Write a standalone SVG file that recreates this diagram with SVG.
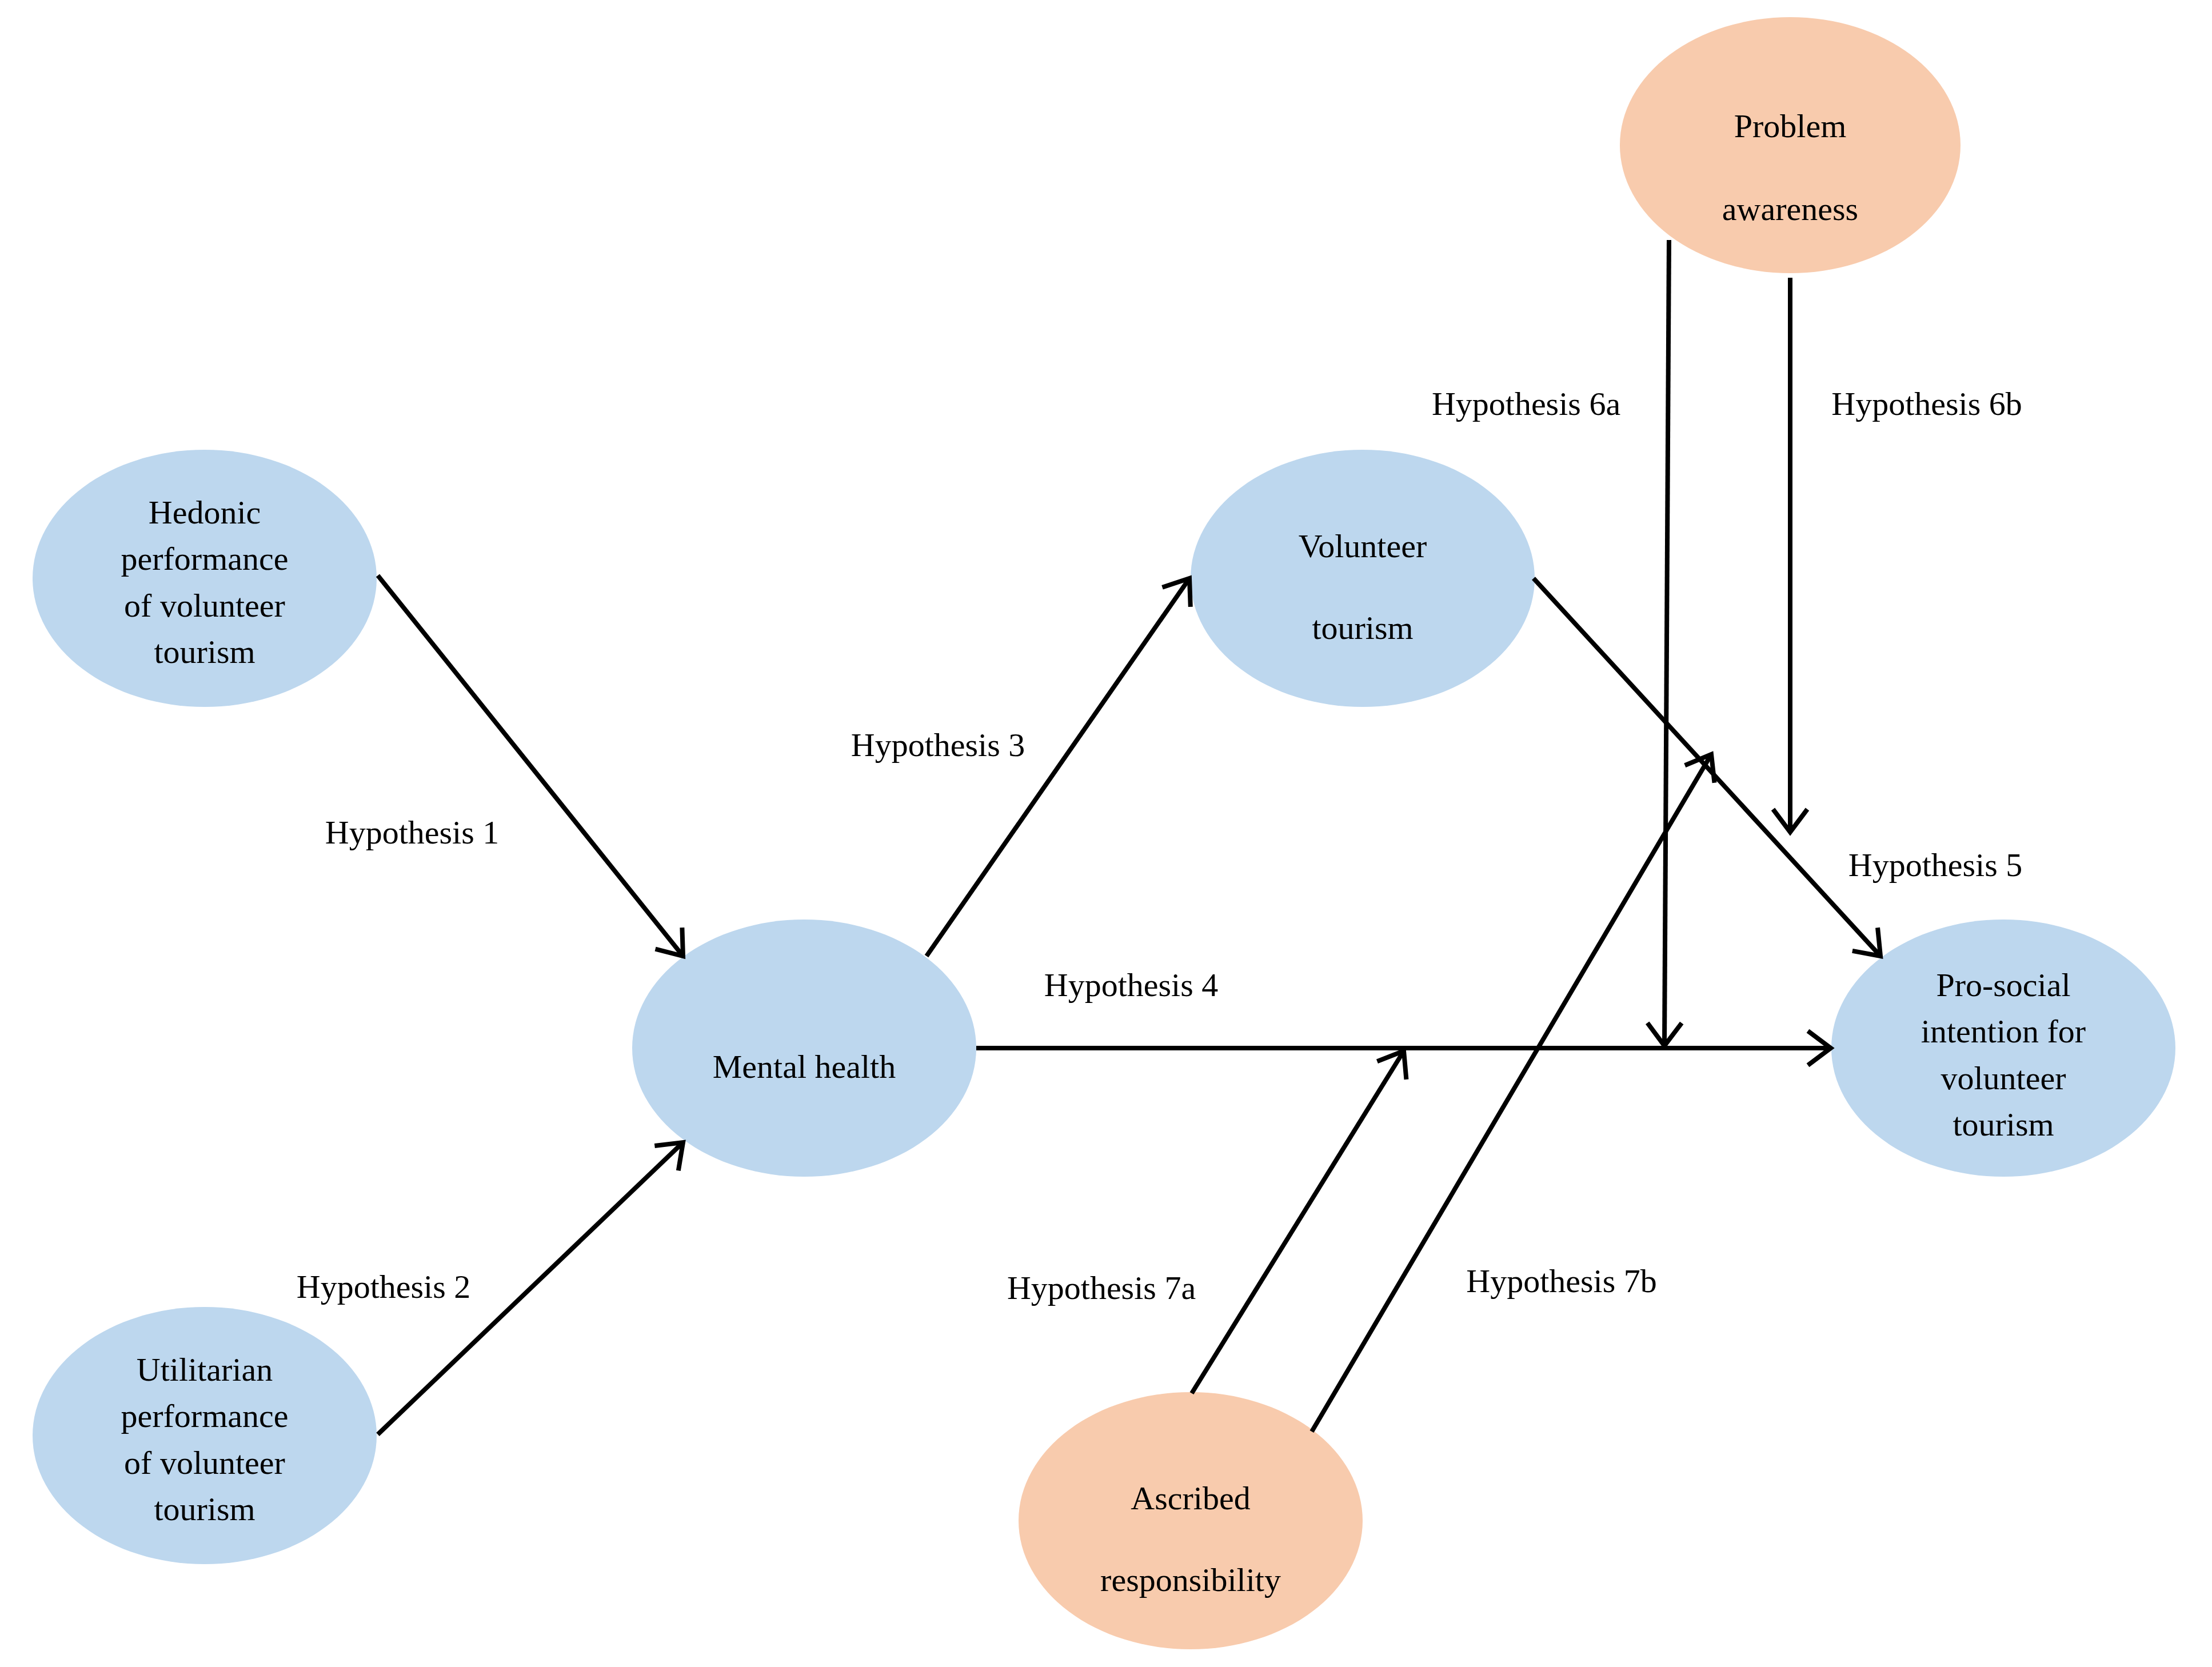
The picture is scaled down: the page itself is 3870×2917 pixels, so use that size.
<svg xmlns="http://www.w3.org/2000/svg" width="3870" height="2917" viewBox="0 0 3870 2917">
<style>
.b{fill:#BDD7EE}.o{fill:#F8CBAD}
text{font-family:"Liberation Serif",serif;font-size:58px;fill:#000;text-anchor:middle;dominant-baseline:central}
.c line{stroke:#000;stroke-width:8;marker-end:url(#a)}
</style>
<defs><marker id="a" markerUnits="userSpaceOnUse" markerWidth="80" markerHeight="80" refX="60" refY="40" orient="auto" viewBox="0 0 80 80"><path d="M20,10 L60,40 L20,70" fill="none" stroke="#000" stroke-width="8"/></marker></defs>
<rect width="3870" height="2917" fill="#fff"/>
<g id="hedonic"><ellipse class="b" cx="358" cy="1012" rx="301" ry="225"/><text x="358" y="896">Hedonic</text><text x="358" y="977">performance</text><text x="358" y="1059">of volunteer</text><text x="358" y="1140">tourism</text></g>
<g id="utilitarian"><ellipse class="b" cx="358" cy="2512" rx="301" ry="225"/><text x="358" y="2396">Utilitarian</text><text x="358" y="2477">performance</text><text x="358" y="2559">of volunteer</text><text x="358" y="2640">tourism</text></g>
<g id="mental"><ellipse class="b" cx="1407" cy="1834" rx="301" ry="225"/><text x="1407" y="1866">Mental health</text></g>
<g id="volunteer"><ellipse class="b" cx="2384" cy="1012" rx="301" ry="225"/><text x="2384" y="955">Volunteer</text><text x="2384" y="1098">tourism</text></g>
<g id="prosocial"><ellipse class="b" cx="3505" cy="1834" rx="301" ry="225"/><text x="3505" y="1723">Pro-social</text><text x="3505" y="1804">intention for</text><text x="3505" y="1886">volunteer</text><text x="3505" y="1967">tourism</text></g>
<g id="problem"><ellipse class="o" cx="3132" cy="254" rx="298" ry="224"/><text x="3132" y="220">Problem</text><text x="3132" y="365">awareness</text></g>
<g id="ascribed"><ellipse class="o" cx="2083" cy="2661" rx="301" ry="225"/><text x="2083" y="2621">Ascribed</text><text x="2083" y="2764">responsibility</text></g>
<g class="c" id="connectors">
<line x1="661" y1="1007" x2="1195" y2="1673"/>
<line x1="661" y1="2510" x2="1195" y2="1999"/>
<line x1="1621" y1="1673" x2="2081" y2="1012"/>
<line x1="1708" y1="1834" x2="3203" y2="1834"/>
<line x1="2683" y1="1012" x2="3290" y2="1673"/>
<line x1="2920" y1="420" x2="2912" y2="1830"/>
<line x1="3132" y1="486" x2="3132" y2="1456"/>
<line x1="2085" y1="2438" x2="2456" y2="1839"/>
<line x1="2295" y1="2505" x2="2994" y2="1320"/>
<text x="721" y="1456">Hypothesis 1</text>
<text x="671" y="2251">Hypothesis 2</text>
<text x="1641" y="1303">Hypothesis 3</text>
<text x="1979" y="1723">Hypothesis 4</text>
<text x="3386" y="1513">Hypothesis 5</text>
<text x="2670" y="706">Hypothesis 6a</text>
<text x="3371" y="706">Hypothesis 6b</text>
<text x="1927" y="2253">Hypothesis 7a</text>
<text x="2732" y="2241">Hypothesis 7b</text>
</g>
</svg>
